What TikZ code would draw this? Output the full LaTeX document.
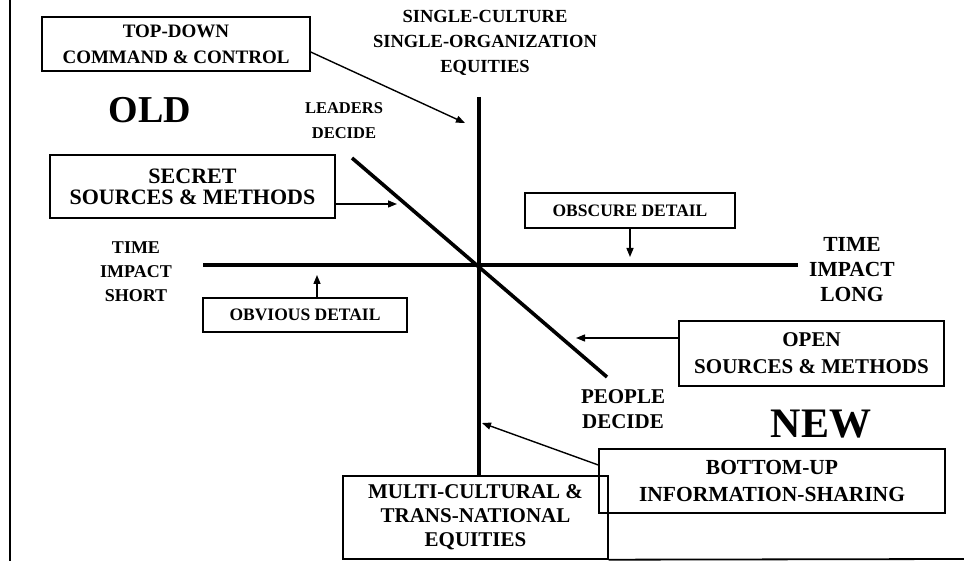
\documentclass[tikz,border=0pt]{standalone}
\usepackage{fontspec}
\setmainfont{Liberation Serif}
\usetikzlibrary{arrows.meta}

\begin{document}
\begin{tikzpicture}
    [
        x=1pt, y=-1pt,
        box_node/.style={draw=black, line width=1.4pt, inner sep=0pt, align=center},
        text_node/.style={inner sep=0pt, align=center},
        axis_line/.style={line width=3.6pt, color=black},
        pointer/.style={-{Triangle[length=9pt, width=7pt]}, line width=1.4pt, color=black},
    ]
        \useasboundingbox (0,0) rectangle (964,561);
        % frame
        \draw[line width=1.8pt] (10,0) -- (10,561);
        % labels
        \node[text_node, font={\fontsize{18.5}{25}\selectfont\bfseries}] (single) at (485,43) {SINGLE-CULTURE\\SINGLE-ORGANIZATION\\EQUITIES};
        \node[text_node, font={\fontsize{38}{42}\selectfont\bfseries}] (old) at (150,110) {OLD};
        \node[text_node, font={\fontsize{42}{46}\selectfont\bfseries}] (new) at (821,424) {NEW};
        \node[text_node, font={\fontsize{16.5}{25}\selectfont\bfseries}] (leaders) at (344,121) {LEADERS\\DECIDE};
        \node[text_node, font={\fontsize{21}{24.5}\selectfont\bfseries}] (people) at (623,409) {PEOPLE\\DECIDE};
        \node[text_node, font={\fontsize{18}{24}\selectfont\bfseries}] (short) at (136,272) {TIME\\IMPACT\\SHORT};
        \node[text_node, font={\fontsize{21.5}{25}\selectfont\bfseries}] (long) at (852,270) {TIME\\IMPACT\\LONG};
        % boxes
        \node[box_node, minimum width=268pt, minimum height=54pt, font={\fontsize{19}{26}\selectfont\bfseries}] (topdown) at (176,44) {TOP-DOWN\\COMMAND \& CONTROL};
        \node[box_node, minimum width=285pt, minimum height=63pt, font={\fontsize{22}{21}\selectfont\bfseries}] (secret) at (192.5,186.5) {SECRET\\SOURCES \& METHODS};
        \node[box_node, minimum width=210pt, minimum height=35pt, font={\fontsize{17.5}{18}\selectfont\bfseries}] (obscure) at (630,210.5) {OBSCURE DETAIL};
        \node[box_node, minimum width=204pt, minimum height=34pt, font={\fontsize{17.5}{18}\selectfont\bfseries}] (obvious) at (305,315) {OBVIOUS DETAIL};
        \node[box_node, minimum width=265pt, minimum height=65pt, font={\fontsize{21}{27}\selectfont\bfseries}] (open) at (811.5,353.5) {OPEN\\SOURCES \& METHODS};
        \node[box_node, minimum width=346pt, minimum height=64pt, font={\fontsize{21.5}{27}\selectfont\bfseries}] (bottomup) at (772,481) {BOTTOM-UP\\INFORMATION-SHARING};
        \node[box_node, minimum width=265pt, minimum height=83pt, font={\fontsize{21}{24}\selectfont\bfseries}] (multi) at (475.5,517.5) {MULTI-CULTURAL \&\\TRANS-NATIONAL\\EQUITIES};
        \draw[line width=1.8pt] (multi.south east) -- (964,559);
        % axes
        \coordinate (v_top) at (479,97);
        \coordinate (h_left) at (203,265);
        \coordinate (h_right) at (798,265);
        \coordinate (d_top) at (352,158);
        \coordinate (d_bot) at (607,377);
        \draw[axis_line] (v_top) -- (v_top |- multi.north);
        \draw[axis_line] (h_left) -- (h_right);
        \draw[axis_line] (d_top) -- (d_bot);
        % pointers
        \coordinate (topdown_tip) at (465,123);
        \coordinate (secret_tip) at (397,204);
        \coordinate (obscure_tip) at (630,257);
        \coordinate (obvious_tip) at (317,275);
        \coordinate (open_tip) at (576,338);
        \coordinate (bottomup_tip) at (482,423);
        \draw[pointer] ([yshift=-8pt]topdown.east) to (topdown_tip);
        \draw[pointer] ([yshift=-17.5pt]secret.east) to (secret_tip);
        \draw[pointer] (obscure.south) to (obscure_tip);
        \draw[pointer] ([xshift=12pt]obvious.north) to (obvious_tip);
        \draw[pointer] ([yshift=15.5pt]open.west) to (open_tip);
        \draw[pointer] ([yshift=16pt]bottomup.west) to (bottomup_tip);
    \end{tikzpicture}
\end{document}
